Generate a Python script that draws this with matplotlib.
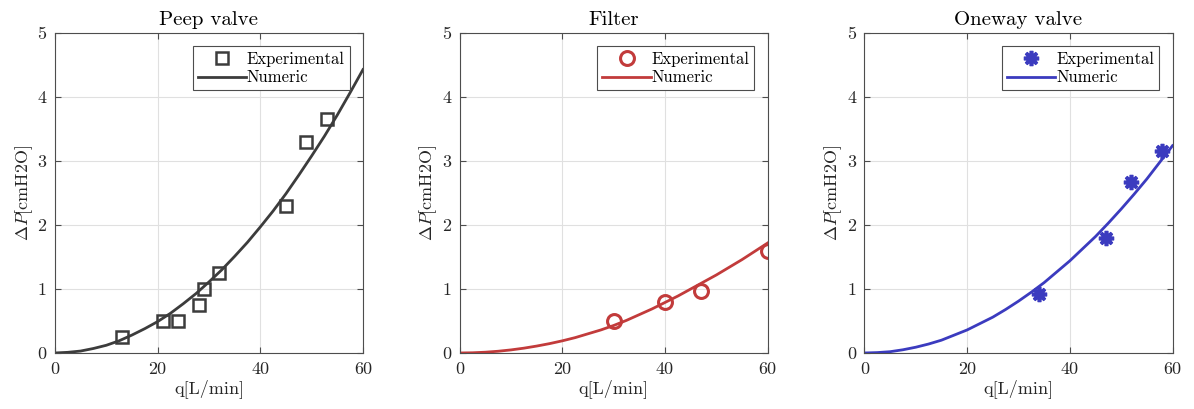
import numpy as np
import matplotlib
matplotlib.use('Agg')
import matplotlib.pyplot as plt

# 测量数据 (q [L/min], ΔP [cmH2O])
peep_q = [13, 21, 24, 28, 29, 32, 45, 49, 53]
peep_dp = [0.25, 0.5, 0.5, 0.75, 1.0, 1.25, 2.3, 3.3, 3.65]
filter_q = [30, 40, 47, 60]
filter_dp = [0.5, 0.8, 0.97, 1.6]
oneway_q = [34, 47, 52, 58]
oneway_dp = [0.92, 1.8, 2.67, 3.15]

# 数值模型曲线
num_q = [0, 2.5, 5, 7.5, 10, 12.5, 15, 17.5, 20, 22.5, 25, 27.5, 30,
         32.5, 35, 37.5, 40, 42.5, 45, 47.5, 50, 52.5, 55, 57.5, 60]
peep_num = [0, 0.01, 0.03, 0.07, 0.12, 0.19, 0.28, 0.38, 0.49, 0.62, 0.77, 0.93, 1.11,
            1.30, 1.51, 1.73, 1.97, 2.22, 2.49, 2.78, 3.08, 3.39, 3.72, 4.07, 4.43]
filter_num = [0, 0.003, 0.012, 0.027, 0.048, 0.075, 0.108, 0.146, 0.19, 0.24, 0.30, 0.36, 0.43,
              0.51, 0.60, 0.69, 0.79, 0.89, 1.00, 1.11, 1.22, 1.34, 1.46, 1.59, 1.72]
oneway_num = [0, 0.006, 0.02, 0.05, 0.09, 0.14, 0.20, 0.28, 0.36, 0.46, 0.56, 0.68, 0.81,
              0.95, 1.10, 1.27, 1.44, 1.63, 1.82, 2.03, 2.25, 2.48, 2.72, 2.98, 3.24]

titles = ['Peep valve', 'Filter', 'Oneway valve']
colors = ['#3c3c3c', '#c23b3b', '#3b3bbf']

plt.rcParams['font.family'] = 'serif'
plt.rcParams['font.serif'] = ['cmr10']
plt.rcParams['mathtext.fontset'] = 'cm'
plt.rcParams['axes.unicode_minus'] = False

fig = plt.figure(figsize=(11.94, 4.09), dpi=100)
lefts = [0.046, 0.385, 0.724]

panels = [
    (peep_q, peep_dp, peep_num, 's', dict(markersize=9, markerfacecolor='none', markeredgewidth=1.8)),
    (filter_q, filter_dp, filter_num, 'o', dict(markersize=10, markerfacecolor='none', markeredgewidth=2.2)),
    (oneway_q, oneway_dp, oneway_num, (8, 2, 0), dict(markersize=11, markeredgewidth=2.6)),
]

for i, (q, dp, num, mk, mstyle) in enumerate(panels):
    ax = fig.add_axes([lefts[i], 0.137, 0.258, 0.782])
    c = colors[i]
    ax.plot(q, dp, linestyle='none', marker=mk, color=c, markeredgecolor=c,
            label='Experimental', **mstyle)
    ax.plot(num_q, num, color=c, linewidth=2.0, label='Numeric')
    ax.set_xlim(0, 60)
    ax.set_ylim(0, 5)
    ax.set_xticks([0, 20, 40, 60])
    ax.set_yticks([0, 1, 2, 3, 4, 5])
    ax.grid(True, color='#e0e0e0', linewidth=0.8)
    ax.set_axisbelow(True)
    for s in ax.spines.values():
        s.set_color('#4d4d4d')
        s.set_linewidth(0.8)
    ax.tick_params(direction='in', length=4, top=True, right=True,
                   labelsize=13, colors='#4d4d4d', labelcolor='#262626', pad=6)
    ax.set_title(titles[i], fontsize=15, pad=6)
    ax.set_xlabel('q[L/min]', fontsize=13, color='#262626', labelpad=2)
    ax.set_ylabel(r'$\Delta P$[cmH2O]', fontsize=13, color='#262626', labelpad=2)
    leg = ax.legend(loc='upper right', fontsize=12, fancybox=False, framealpha=1,
                    edgecolor='#4d4d4d', borderpad=0.3, handlelength=2.9,
                    handletextpad=0.05, labelspacing=0.2, borderaxespad=0.8)
    leg.get_frame().set_linewidth(0.8)

fig.savefig('out.png', dpi=100)
